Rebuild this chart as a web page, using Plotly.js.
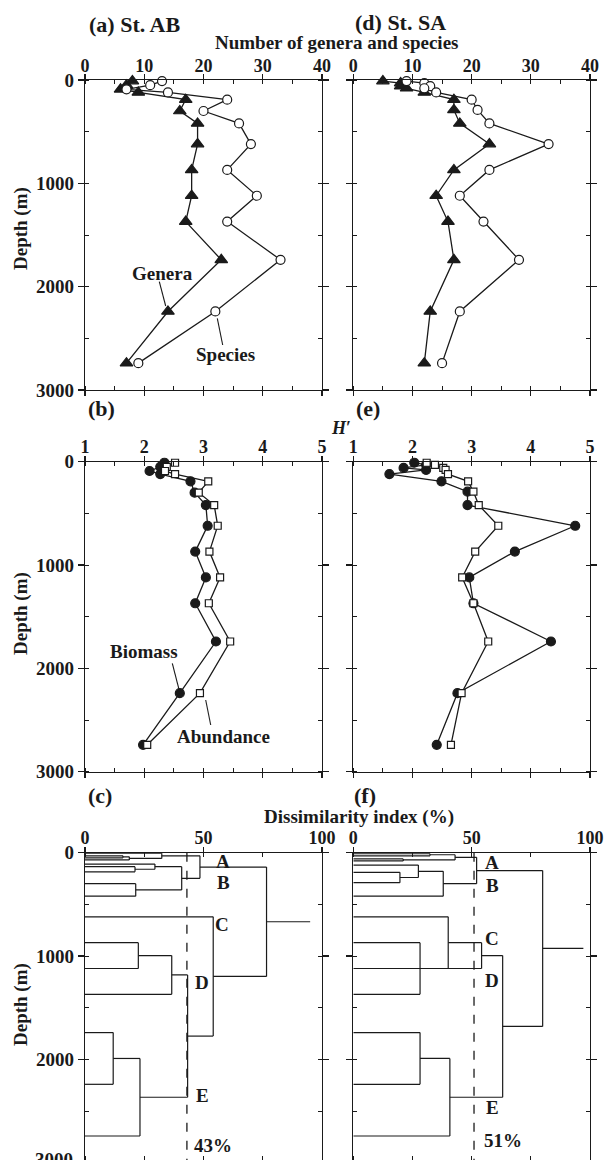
<!DOCTYPE html>
<html><head><meta charset="utf-8">
<script src="https://cdn.plot.ly/plotly-3.0.1.min.js"></script>
<style>html,body{margin:0;padding:0;background:#fff;} #chart{width:605px;height:1160px;}</style>
</head><body><div id="chart"></div>
<script>
// ---------- St. AB ----------
const depthAB     = [10, 50, 90, 120, 190, 300, 420, 620, 870, 1120, 1370, 1740, 2240, 2740];
const generaAB    = [8, 7, 6, 9, 17, 16, 19, 19, 18, 18, 17, 23, 14, 7];
const speciesAB   = [13, 11, 7, 14, 24, 20, 26, 28, 24, 29, 24, 33, 22, 9];
const biomassAB   = [2.34, 2.27, 2.09, 2.27, 2.78, 2.85, 3.04, 3.07, 2.86, 3.04, 2.86, 3.21, 2.60, 1.98];
const abundanceAB = [2.52, 2.38, 2.35, 2.52, 3.08, 2.92, 3.18, 3.24, 3.10, 3.28, 3.09, 3.45, 2.94, 2.05];
// ---------- St. SA ----------
const depthSA     = [10, 30, 60, 80, 120, 190, 290, 420, 620, 870, 1120, 1370, 1740, 2240, 2740];
const generaSA    = [5, 8, 8, 9, 12, 17, 17, 18, 23, 17, 14, 16, 17, 13, 12];
const speciesSA   = [9, 12, 13, 12, 14, 20, 21, 23, 33, 23, 18, 22, 28, 18, 15];
const biomassSA   = [2.03, 2.23, 1.85, 2.23, 1.61, 2.49, 2.93, 2.93, 4.75, 3.73, 2.96, 3.03, 4.34, 2.76, 2.41];
const abundanceSA = [2.24, 2.38, 2.52, 2.56, 2.60, 2.94, 3.03, 3.12, 3.45, 3.06, 2.84, 3.03, 3.28, 2.83, 2.65];
// ---------- Dendrogram St. AB (dissimilarity %) ----------
const leafDepthAB = [5, 30, 50, 70, 110, 135, 185, 300, 420, 620, 870, 1120, 1370, 1740, 2240, 2740];
const mergeA_AB   = [1, 16, 0, 5, 4, 7, 20, 18, 10, 24, 13, 26, 25, 9, 23];
const mergeB_AB   = [2, 3, 17, 6, 19, 8, 21, 22, 11, 12, 14, 15, 27, 28, 29];
const mergeH_AB   = [16, 18.7, 32.4, 21.1, 29.5, 21.4, 40.8, 48.5, 22.5, 36.6, 11.9, 23.2, 43.3, 54.1, 76.6];
const rootAB      = 95;
const cutAB       = 43;
// ---------- Dendrogram St. SA ----------
const leafDepthSA = [10, 30, 60, 80, 120, 190, 290, 420, 620, 870, 1120, 1370, 1740, 2240, 2740];
const mergeA_SA   = [2, 0, 16, 5, 4, 19, 17, 9, 8, 23, 12, 25, 24, 21];
const mergeB_SA   = [3, 1, 15, 6, 18, 7, 20, 11, 22, 10, 13, 14, 26, 27];
const mergeH_SA   = [21.1, 32.4, 43.0, 19.7, 27.5, 38.0, 52.1, 28.2, 40.1, 54.2, 28.2, 40.8, 63.1, 80.0];
const rootSA      = 97.2;
const cutSA       = 51;
const clusterNames = ['A', 'B', 'C', 'D', 'E'];

function dendro(leaves, ca, cb, h, rootTo) {
  const X = leaves.map(() => 0), Y = leaves.slice();
  const xs = [], ys = [];
  for (let k = 0; k < ca.length; k++) {
    const a = ca[k], b = cb[k], hk = h[k];
    xs.push(X[a], hk, null); ys.push(Y[a], Y[a], null);
    xs.push(X[b], hk, null); ys.push(Y[b], Y[b], null);
    xs.push(hk, hk, null); ys.push(Y[a], Y[b], null);
    X.push(hk); Y.push((Y[a] + Y[b]) / 2);
  }
  const r = X.length - 1;
  xs.push(X[r], rootTo); ys.push(Y[r], Y[r]);
  return {x: xs, y: ys};
}

const W = 605, H = 1160;
const px = v => v / W, py = v => 1 - v / H;
const SERIF = 'Liberation Serif, Times New Roman, serif';
const INK = '#1a1a1a';

const lineStyle = {color: INK, width: 1.3};
function series(x, y, xa, ya, sym, fill, size) {
  return {x, y, xaxis: xa, yaxis: ya, type: 'scatter', mode: 'lines+markers', cliponaxis: false,
    line: lineStyle, marker: {symbol: sym, size, color: fill, line: {color: INK, width: 1.2}}, hoverinfo: 'skip'};
}
const dAB = dendro(leafDepthAB, mergeA_AB, mergeB_AB, mergeH_AB, rootAB);
const dSA = dendro(leafDepthSA, mergeA_SA, mergeB_SA, mergeH_SA, rootSA);

const data = [
  series(generaAB, depthAB, 'x', 'y', 'triangle-up', INK, 11),
  series(speciesAB, depthAB, 'x', 'y', 'circle', '#fff', 9),
  series(generaSA, depthSA, 'x2', 'y2', 'triangle-up', INK, 11),
  series(speciesSA, depthSA, 'x2', 'y2', 'circle', '#fff', 9),
  series(biomassAB, depthAB, 'x3', 'y3', 'circle', INK, 9),
  series(abundanceAB, depthAB, 'x3', 'y3', 'square', '#fff', 7),
  series(biomassSA, depthSA, 'x4', 'y4', 'circle', INK, 9),
  series(abundanceSA, depthSA, 'x4', 'y4', 'square', '#fff', 7),
  {x: dAB.x, y: dAB.y, xaxis: 'x5', yaxis: 'y5', mode: 'lines', line: {color: INK, width: 1.2}, connectgaps: false, hoverinfo: 'skip', cliponaxis: false},
  {x: dSA.x, y: dSA.y, xaxis: 'x6', yaxis: 'y6', mode: 'lines', line: {color: INK, width: 1.2}, connectgaps: false, hoverinfo: 'skip', cliponaxis: false},
  {x: [cutAB, cutAB], y: [0, 3000], xaxis: 'x5', yaxis: 'y5', mode: 'lines', line: {color: INK, width: 1.3, dash: 'dash'}, hoverinfo: 'skip'},
  {x: [cutSA, cutSA], y: [0, 3000], xaxis: 'x6', yaxis: 'y6', mode: 'lines', line: {color: INK, width: 1.3, dash: 'dash'}, hoverinfo: 'skip'}
];

const xtickfont = {family: SERIF, size: 18, weight: 'bold', color: INK};
const ytickfont = {family: SERIF, size: 19, weight: 'bold', color: INK};
function xax(dom, range, dtick, minor, anchor) {
  return {domain: dom, range, anchor, side: 'top', dtick, tick0: range[0] === 1 ? 1 : 0,
    showline: true, linecolor: INK, linewidth: 1.2, mirror: 'ticks',
    ticks: 'outside', ticklen: 5, tickwidth: 1.2, tickcolor: INK, tickfont: xtickfont,
    ticklabelstandoff: -5,
    minor: {dtick: minor, ticks: 'inside', ticklen: 4, tickwidth: 1, tickcolor: INK, showgrid: false},
    showgrid: false, zeroline: false, fixedrange: true};
}
function yax(dom, range, anchor, labels) {
  return {domain: dom, range, anchor, dtick: 1000, tick0: 0,
    showline: true, linecolor: INK, linewidth: 1.2, mirror: 'ticks',
    ticks: 'outside', ticklen: 6, tickwidth: 1.2, tickcolor: INK, tickfont: ytickfont, showticklabels: labels,
    minor: {dtick: 500, ticks: 'inside', ticklen: 4, tickwidth: 1, tickcolor: INK, showgrid: false},
    showgrid: false, zeroline: false, fixedrange: true};
}
const colL = [px(85), px(322)], colR = [px(353.3), px(590)];
const row1 = [py(390), py(80)], row2 = [py(771.7), py(461.7)], row3 = [0, py(852.7)];

function ann(text, x, y, opts = {}) {
  return Object.assign({text, x: px(x), y: py(y), xref: 'paper', yref: 'paper', showarrow: false,
    xanchor: 'center', yanchor: 'middle',
    font: {family: SERIF, size: opts.size || 19, weight: 'bold', color: INK}}, opts.extra || {});
}
const annotations = [
  ann('(a) St. AB', 87, 24, {size: 22, extra: {xanchor: 'left'}}),
  ann('(d) St. SA', 353, 23, {size: 22, extra: {xanchor: 'left'}}),
  ann('Number of genera and species', 336.5, 43),
  ann('(b)', 102, 408, {size: 22}),
  ann('(e)', 367.5, 408, {size: 22}),
  ann('<i>H</i>\u2032', 341, 428, {size: 18}),
  ann('(c)', 100, 795, {size: 22}),
  ann('(f)', 365, 795, {size: 22}),
  ann('Dissimilarity index (%)', 359, 817),
  ann('Depth (m)', 21, 229, {extra: {textangle: -90}}),
  ann('Depth (m)', 21, 614, {extra: {textangle: -90}}),
  ann('Depth (m)', 21, 1005, {extra: {textangle: -90}}),
  ann('3000', 75, 1159, {size: 19, extra: {xanchor: 'right'}}),
  ann('Genera', 162, 274),
  ann('Species', 225, 354),
  ann('Biomass', 144, 651),
  ann('Abundance', 223, 736),
  ann(clusterNames[0], 223, 861), ann(clusterNames[1], 223, 882), ann(clusterNames[2], 222, 924),
  ann(clusterNames[3], 202, 982), ann(clusterNames[4], 202, 1095),
  ann(cutAB + '%', 213, 1145),
  ann(clusterNames[0], 492, 862), ann(clusterNames[1], 492, 885), ann(clusterNames[2], 492, 938),
  ann(clusterNames[3], 492, 980), ann(clusterNames[4], 492, 1107),
  ann(cutSA + '%', 503, 1140)
];
function seg(x0, y0, x1, y1) {
  return {type: 'line', xref: 'paper', yref: 'paper', x0: px(x0), y0: py(y0), x1: px(x1), y1: py(y1),
    line: {color: INK, width: 1.1}};
}
const shapes = [
  seg(159.3, 281.7, 165.7, 306), seg(217.3, 318.3, 222.7, 345),
  seg(172.3, 663.3, 179, 689.3), seg(205.7, 700, 210.7, 725)
];

const layout = {
  width: W, height: H, margin: {l: 0, r: 0, t: 0, b: 0}, showlegend: false,
  paper_bgcolor: '#fff', plot_bgcolor: 'rgba(0,0,0,0)',
  xaxis:  xax(colL, [0, 40], 10, 5, 'y'),   yaxis:  yax(row1, [3000, 0], 'x', true),
  xaxis2: xax(colR, [0, 40], 10, 5, 'y2'),  yaxis2: yax(row1, [3000, 0], 'x2', false),
  xaxis3: xax(colL, [1, 5], 1, 0.5, 'y3'),  yaxis3: yax(row2, [3000, 0], 'x3', true),
  xaxis4: xax(colR, [1, 5], 1, 0.5, 'y4'),  yaxis4: yax(row2, [3000, 0], 'x4', false),
  xaxis5: xax(colL, [0, 100], 50, 25, 'y5'), yaxis5: yax(row3, [2972, 0], 'x5', true),
  xaxis6: xax(colR, [0, 100], 50, 25, 'y6'), yaxis6: yax(row3, [2972, 0], 'x6', false),
  annotations, shapes
};
Plotly.newPlot('chart', data, layout, {staticPlot: true, displayModeBar: false});
</script></body></html>
